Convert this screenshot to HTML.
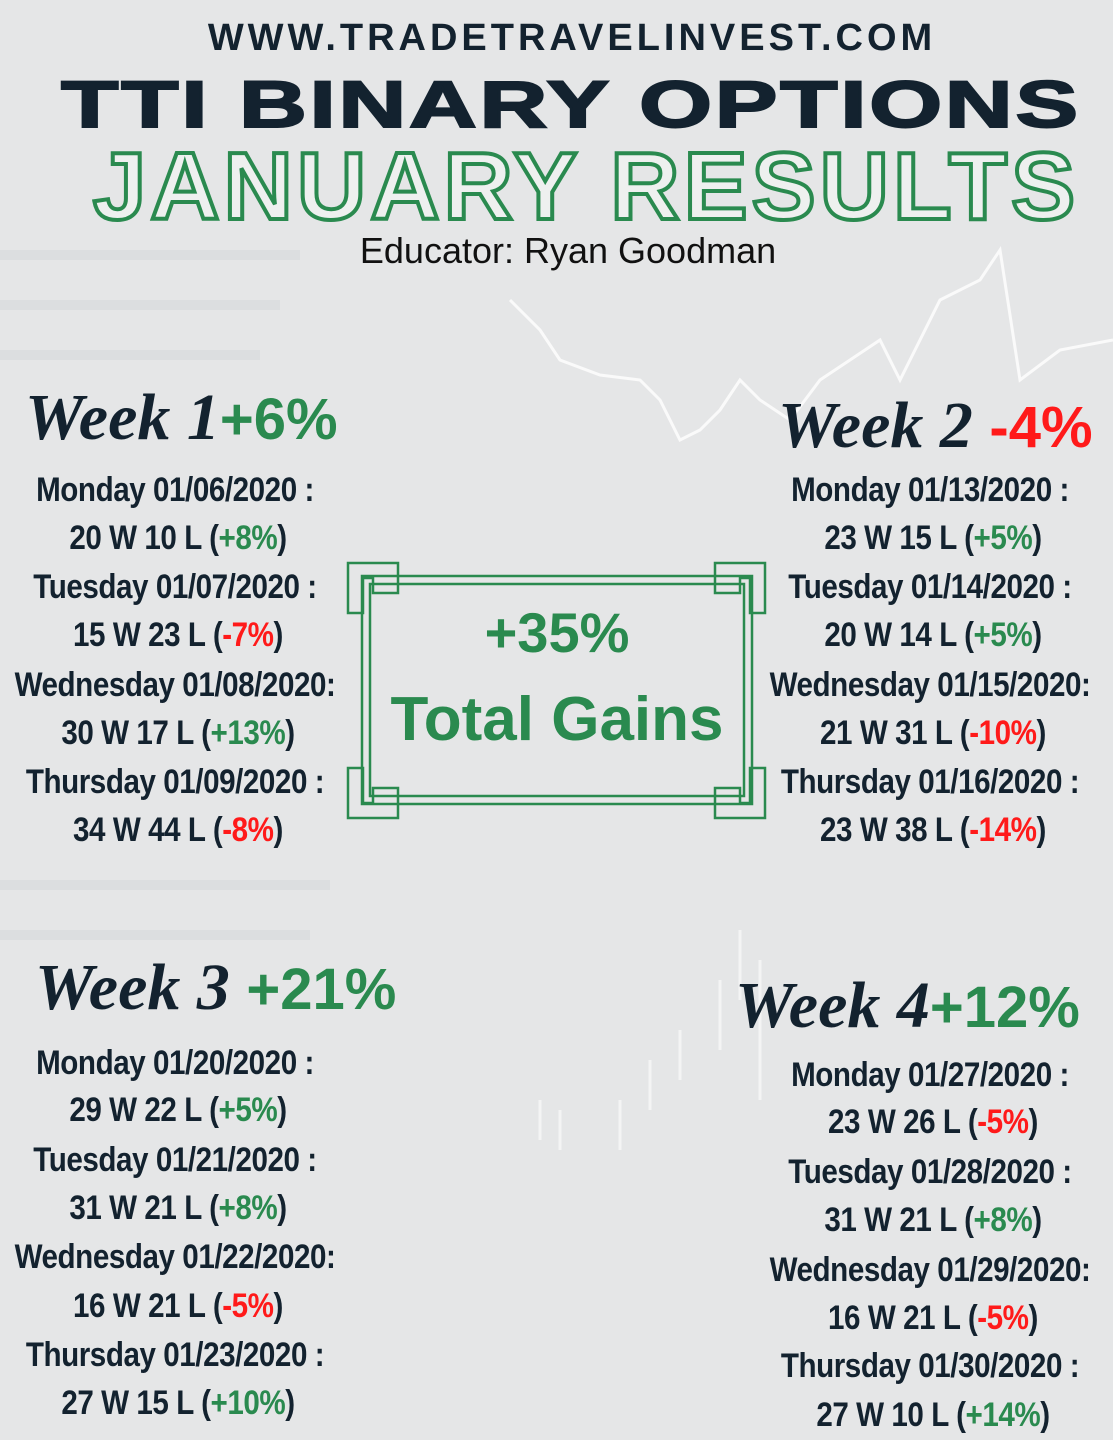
<!DOCTYPE html>
<html><head><meta charset="utf-8"><style>
html,body{margin:0;padding:0}
body{width:1113px;height:1440px;position:relative;overflow:hidden;background:#e4e5e6;font-family:"Liberation Sans",sans-serif;color:#13222f}
.bg{position:absolute;inset:0}
.abs{position:absolute;white-space:nowrap}
.c{transform:translateX(-50%)}
.day{position:absolute;white-space:nowrap;font-family:"Liberation Sans",sans-serif;font-weight:bold;font-size:34px;line-height:36px;letter-spacing:-0.5px;transform:translateX(-50%) scaleX(0.87)}
.g{color:#2a8a4f}.r{color:#ff1a1a}
.wk{position:absolute;white-space:nowrap;font-family:"Liberation Serif",serif;font-style:italic;font-weight:bold;font-size:66px;color:#13222f}
.pct{font-family:"Liberation Sans",sans-serif;font-style:normal;font-weight:bold;font-size:58px}
</style></head><body>
<svg class="bg" width="1113" height="1440">
<rect width="1113" height="1440" fill="#e5e6e7"/>
<g fill="#dcdee0">
<rect x="0" y="250" width="300" height="10"/><rect x="0" y="300" width="280" height="10"/><rect x="0" y="350" width="260" height="10"/>
<rect x="0" y="880" width="330" height="10"/><rect x="0" y="930" width="310" height="10"/>
</g>
<polyline fill="none" stroke="#fafafa" stroke-width="3" points="510,300 540,330 560,360 600,375 640,380 660,400 680,440 700,430 720,410 740,380 760,400 790,420 820,380 850,360 880,340 900,380 940,300 980,280 1000,250 1020,380 1060,350 1113,340"/>
<g stroke="#f4f4f4" stroke-width="3">
<line x1="540" y1="1100" x2="540" y2="1140"/><line x1="560" y1="1110" x2="560" y2="1150"/><line x1="620" y1="1100" x2="620" y2="1150"/><line x1="650" y1="1060" x2="650" y2="1110"/><line x1="680" y1="1030" x2="680" y2="1080"/><line x1="720" y1="980" x2="720" y2="1050"/><line x1="740" y1="930" x2="740" y2="1000"/><line x1="760" y1="960" x2="760" y2="1100"/>
</g>
<g fill="none" stroke="#2a8a4f" stroke-width="2.5">
<rect x="362" y="576" width="390" height="228"/>
<rect x="370" y="584" width="374" height="212"/>
<path d="M348 563h50v30h-25v-15h-10v35h-15z"/><path d="M765 563h-50v30h25v-15h10v35h15z"/>
<path d="M348 818h50v-30h-25v15h-10v-35h-15z"/><path d="M765 818h-50v-30h25v15h10v-35h15z"/>
</g>
</svg>
<div class="abs c" style="left:572px;top:17px;font-weight:bold;font-size:38px;letter-spacing:4px;color:#13222f">WWW.TRADETRAVELINVEST.COM</div>
<div class="abs c" style="left:571px;top:66px;font-weight:900;font-size:66px;letter-spacing:2px;transform:translateX(-50%) scaleX(1.42);color:#13222f;-webkit-text-stroke:2px #13222f">TTI BINARY OPTIONS</div>
<div class="abs c" style="left:586px;top:132px;font-weight:bold;font-size:96px;letter-spacing:4px;color:#eef0ef;-webkit-text-stroke:4px #2a8a4f">JANUARY RESULTS</div>
<div class="abs c" style="left:568px;top:230px;font-size:36px;color:#111">Educator: Ryan Goodman</div>

<div class="wk" style="left:25px;top:380px">Week 1<span class="pct g">+6%</span></div>
<div class="wk" style="left:778px;top:388px">Week 2 <span class="pct r">-4%</span></div>
<div class="wk" style="left:35px;top:950px">Week 3 <span class="pct g">+21%</span></div>
<div class="wk" style="left:735px;top:968px">Week 4<span class="pct g">+12%</span></div>

<div class="abs c" style="left:557px;top:600px;font-weight:bold;font-size:56px;color:#2a8a4f">+35%</div>
<div class="abs c" style="left:557px;top:684px;font-weight:bold;font-size:62px;color:#2a8a4f">Total Gains</div>

<div class="day" style="left:175px;top:472px">Monday 01/06/2020 :</div>
<div class="day" style="left:178px;top:520px">20 W 10 L (<span class="g">+8%</span>)</div>
<div class="day" style="left:175px;top:569px">Tuesday 01/07/2020 :</div>
<div class="day" style="left:178px;top:617px">15 W 23 L (<span class="r">-7%</span>)</div>
<div class="day" style="left:175px;top:667px">Wednesday 01/08/2020:</div>
<div class="day" style="left:178px;top:715px">30 W 17 L (<span class="g">+13%</span>)</div>
<div class="day" style="left:175px;top:764px">Thursday 01/09/2020 :</div>
<div class="day" style="left:178px;top:812px">34 W 44 L (<span class="r">-8%</span>)</div>

<div class="day" style="left:930px;top:472px">Monday 01/13/2020 :</div>
<div class="day" style="left:933px;top:520px">23 W 15 L (<span class="g">+5%</span>)</div>
<div class="day" style="left:930px;top:569px">Tuesday 01/14/2020 :</div>
<div class="day" style="left:933px;top:617px">20 W 14 L (<span class="g">+5%</span>)</div>
<div class="day" style="left:930px;top:667px">Wednesday 01/15/2020:</div>
<div class="day" style="left:933px;top:715px">21 W 31 L (<span class="r">-10%</span>)</div>
<div class="day" style="left:930px;top:764px">Thursday 01/16/2020 :</div>
<div class="day" style="left:933px;top:812px">23 W 38 L (<span class="r">-14%</span>)</div>

<div class="day" style="left:175px;top:1045px">Monday 01/20/2020 :</div>
<div class="day" style="left:178px;top:1092px">29 W 22 L (<span class="g">+5%</span>)</div>
<div class="day" style="left:175px;top:1142px">Tuesday 01/21/2020 :</div>
<div class="day" style="left:178px;top:1190px">31 W 21 L (<span class="g">+8%</span>)</div>
<div class="day" style="left:175px;top:1239px">Wednesday 01/22/2020:</div>
<div class="day" style="left:178px;top:1288px">16 W 21 L (<span class="r">-5%</span>)</div>
<div class="day" style="left:175px;top:1337px">Thursday 01/23/2020 :</div>
<div class="day" style="left:178px;top:1385px">27 W 15 L (<span class="g">+10%</span>)</div>

<div class="day" style="left:930px;top:1057px">Monday 01/27/2020 :</div>
<div class="day" style="left:933px;top:1104px">23 W 26 L (<span class="r">-5%</span>)</div>
<div class="day" style="left:930px;top:1154px">Tuesday 01/28/2020 :</div>
<div class="day" style="left:933px;top:1202px">31 W 21 L (<span class="g">+8%</span>)</div>
<div class="day" style="left:930px;top:1252px">Wednesday 01/29/2020:</div>
<div class="day" style="left:933px;top:1300px">16 W 21 L (<span class="r">-5%</span>)</div>
<div class="day" style="left:930px;top:1348px">Thursday 01/30/2020 :</div>
<div class="day" style="left:933px;top:1397px">27 W 10 L (<span class="g">+14%</span>)</div>
</body></html>
